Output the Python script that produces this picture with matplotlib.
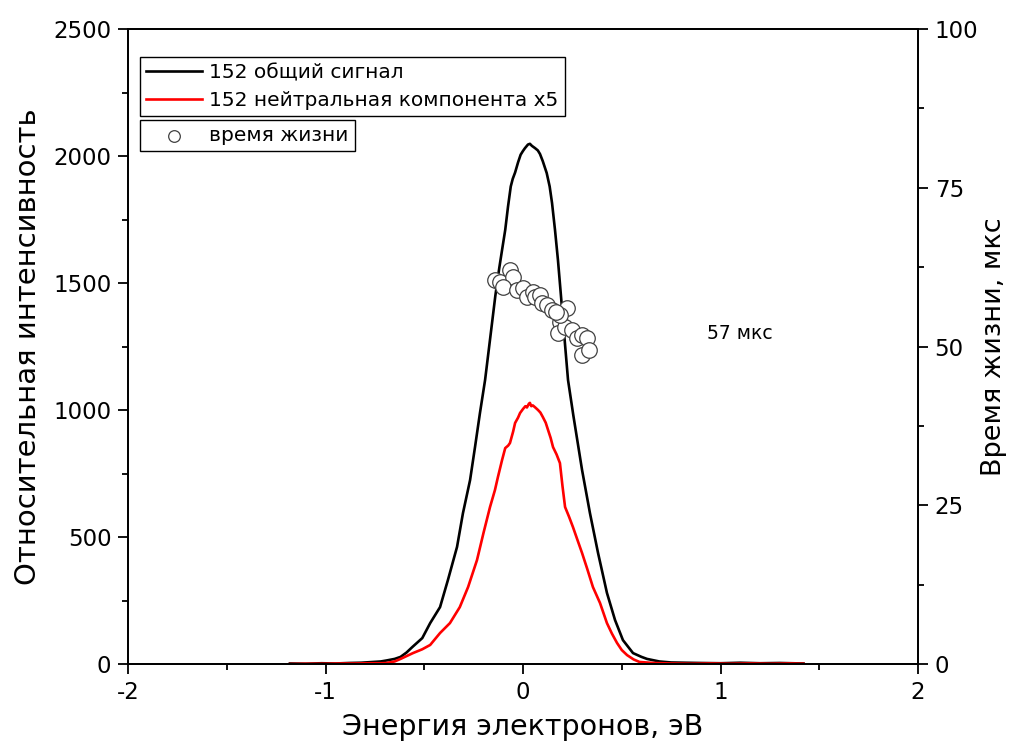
import matplotlib
matplotlib.use("Agg")
import matplotlib.pyplot as plt
from matplotlib.ticker import MultipleLocator

# ---- data ----
x_total = [-1.18, -1.10, -1.02, -0.95, -0.88, -0.82, -0.76, -0.72, -0.69, -0.65, -0.62, -0.59,
           -0.56, -0.51, -0.47, -0.42, -0.38, -0.334, -0.304, -0.268, -0.243, -0.218, -0.192,
           -0.165, -0.14, -0.12, -0.106, -0.09, -0.076, -0.062, -0.052, -0.04, -0.025, -0.012,
           0.0, 0.01, 0.025, 0.035, 0.045, 0.061, 0.075, 0.086, 0.10, 0.12, 0.135, 0.147, 0.162,
           0.177, 0.19, 0.205, 0.228, 0.255, 0.299, 0.339, 0.38, 0.425,
           0.466, 0.506, 0.557, 0.60, 0.628, 0.69, 0.75, 0.82, 0.90, 1.00, 1.10, 1.20, 1.30, 1.42]
y_total = [2, 1, 3, 2, 4, 5, 8, 10, 14, 20, 28, 45,
           67, 102, 161, 224, 331, 461, 594, 724, 854, 988, 1118,
           1290, 1450, 1560, 1630, 1709, 1800, 1880, 1910, 1935, 1975, 2005,
           2020, 2031, 2045, 2048, 2040, 2031, 2022, 2008, 1980, 1933, 1880, 1815, 1709,
           1590, 1470, 1330, 1118, 978, 764, 594, 437, 280,
           173, 94, 43, 28, 20, 10, 6, 5, 4, 3, 5, 3, 4, 2]

x_neutral = [-1.18, -1.10, -1.00, -0.92, -0.85, -0.78, -0.72, -0.69, -0.65, -0.62, -0.557,
             -0.51, -0.47, -0.42, -0.37, -0.32, -0.278, -0.233, -0.20, -0.167, -0.142, -0.127,
             -0.106, -0.09, -0.075, -0.066, -0.05, -0.04, -0.025, -0.015, 0.0, 0.012, 0.02, 0.03,
             0.035, 0.042, 0.05, 0.062, 0.076, 0.088, 0.10, 0.115, 0.127,
             0.14, 0.152, 0.17, 0.187, 0.20, 0.213, 0.233, 0.253, 0.275, 0.299, 0.325, 0.354,
             0.39, 0.425, 0.45, 0.476, 0.50, 0.527, 0.56, 0.59,
             0.66, 0.75, 0.85, 0.95, 1.05, 1.15, 1.25, 1.35, 1.42]
y_neutral = [0, 1, 1, 2, 2, 3, 3, 4, 10, 20, 43,
             58, 75, 122, 161, 224, 303, 409, 516, 618, 685, 736,
             803, 850, 860, 870, 915, 949, 970, 988, 1004, 1015, 1010, 1025,
             1028, 1015, 1018, 1010, 1000, 990, 973, 950, 921,
             890, 854, 825, 791, 700, 618, 580, 539, 490, 437, 375, 303,
             240, 161, 120, 83, 55, 35, 18, 8,
             4, 2, 1, 2, 1, 2, 1, 2, 1]

x_life = [-0.142, -0.116, -0.066, -0.05, -0.10, -0.03, 0.0, 0.02, 0.05, 0.061, 0.086,
          0.096, 0.12, 0.147, 0.223, 0.187, 0.177, 0.213, 0.248, 0.273, 0.299, 0.324,
          0.299, 0.334, 0.187, 0.165]
tau = [60.5, 60.2, 62.0, 60.9, 59.4, 58.9, 59.2, 57.8, 58.6, 57.8, 58.1,
       56.9, 56.5, 55.7, 56.1, 53.9, 52.1, 53.1, 52.6, 51.3, 51.8, 51.3,
       48.7, 49.4, 55.0, 55.4]

label_total = "152 общий сигнал"
label_neutral = "152 нейтральная компонента x5"
label_life = "время жизни"
note_text = "57 мкс"
xlabel = "Энергия электронов, эВ"
ylabel_left = "Относительная интенсивность"
ylabel_right = "Время жизни, мкс"

plt.rcParams['font.family'] = ['DejaVu Sans']
plt.rcParams['axes.unicode_minus'] = False

W, H = 1009, 745
fig = plt.figure(figsize=(W / 100, H / 100), dpi=100)
L, R, T, B = 128, 918, 29, 664
ax = fig.add_axes([L / W, 1 - B / H, (R - L) / W, (B - T) / H])

l1, = ax.plot(x_total, y_total, color='black', lw=1.9, label=label_total)
l2, = ax.plot(x_neutral, y_neutral, color='red', lw=1.9, label=label_neutral)

ax.set_xlim(-2, 2)
ax.set_ylim(0, 2500)
ax.xaxis.set_major_locator(MultipleLocator(1))
ax.xaxis.set_minor_locator(MultipleLocator(0.5))
ax.yaxis.set_major_locator(MultipleLocator(500))
ax.yaxis.set_minor_locator(MultipleLocator(250))
ax.tick_params(which='major', direction='out', length=7, width=1.3, labelsize=16.5,
               top=False, right=False, pad=5)
ax.tick_params(which='minor', direction='out', length=4, width=1.3, top=False, right=False)
for sp in ax.spines.values():
    sp.set_linewidth(1.3)

ax2 = ax.twinx()
ax2.set_ylim(0, 100)
ax2.yaxis.set_major_locator(MultipleLocator(25))
ax2.yaxis.set_minor_locator(MultipleLocator(12.5))
ax2.tick_params(which='major', direction='out', length=7, width=1.3, labelsize=16.5, pad=5)
ax2.tick_params(which='minor', direction='out', length=4, width=1.3)
for sp in ax2.spines.values():
    sp.set_linewidth(1.3)

sc = ax2.scatter(x_life, tau, s=125, facecolors='white', edgecolors='#404040',
                 linewidths=0.9, zorder=3, label=label_life)

ax.text(1.10, 1303, note_text, fontsize=13.5, ha='center', va='center')

ax.set_xlabel(xlabel, fontsize=20.5, labelpad=7)
ax.set_ylabel(ylabel_left, fontsize=21, labelpad=8)
ax2.set_ylabel(ylabel_right, fontsize=19.5, labelpad=2)

leg_kw = dict(loc='upper left', bbox_transform=fig.transFigure, borderaxespad=0,
              fancybox=False, edgecolor='black', framealpha=1, fontsize=14.5,
              handlelength=2.8, handletextpad=0.35, borderpad=0.3, labelspacing=0.45)
leg1 = ax2.legend(handles=[l1, l2], bbox_to_anchor=(140 / W, 1 - 57 / H), **leg_kw)
leg1.get_frame().set_linewidth(1.0)
ax2.add_artist(leg1)
leg2 = ax2.legend(handles=[sc], bbox_to_anchor=(140 / W, 1 - 120 / H),
                  scatterpoints=1, markerscale=0.75, **leg_kw)
leg2.get_frame().set_linewidth(1.0)

fig.savefig("out.png", dpi=100)
